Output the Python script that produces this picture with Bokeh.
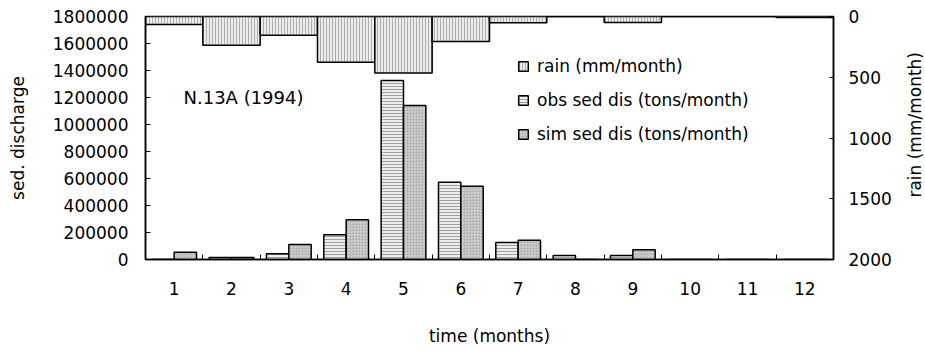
import math
from bokeh.plotting import figure
from bokeh.layouts import row
from bokeh.models import (Range1d, LinearAxis, FixedTicker, Label, Legend,
                          LegendItem, NumeralTickFormatter, ColumnDataSource)
from bokeh.embed import file_html
from bokeh.resources import INLINE

# ---- data ----
months = [1, 2, 3, 4, 5, 6, 7, 8, 9, 10, 11, 12]
rain = [66, 236, 154, 376, 466, 206, 52, 0, 50, 0, 0, 8]  # mm/month
obs_sed = [0, 15000, 42000, 183000, 1326000, 573000, 126000, 30000, 30000, 0, 0, 0]
sim_sed = [54000, 15000, 111000, 294000, 1141000, 543000, 143000, 0, 72000, 0, 0, 0]
sed_ticks = [0, 200000, 400000, 600000, 800000, 1000000, 1200000, 1400000, 1600000, 1800000]
rain_ticks = [0, 500, 1000, 1500, 2000]

FONT = "DejaVu Sans"
FS = "17px"

p = figure(width=900, height=350, x_range=Range1d(0.5, 12.5), y_range=Range1d(0, 1800000),
           output_backend="svg", toolbar_location=None,
           min_border_left=145, min_border_right=67, min_border_top=16, min_border_bottom=91)
p.extra_y_ranges = {"rain": Range1d(2000, 0)}
p.xgrid.visible = False
p.ygrid.visible = False
p.outline_line_color = "black"
p.outline_line_width = 1.5
p.background_fill_color = "white"
p.border_fill_color = "white"

bw = 0.39
src = ColumnDataSource(dict(
    x=months,
    rain=rain,
    obs=obs_sed,
    sim=sim_sed,
    xo=[m - bw / 2 for m in months],
    xs=[m + bw / 2 for m in months],
))

r_rain = p.vbar(x="x", width=1.0, top=0, bottom="rain", source=src, y_range_name="rain",
                fill_color="#ececec", hatch_pattern="vertical_line", hatch_color="#a0a0a0",
                hatch_scale=3, hatch_weight=0.8, line_color="black", line_width=1.5)
r_obs = p.vbar(x="xo", width=bw, top="obs", bottom=0, source=src,
               fill_color="#eeeeee", hatch_pattern="horizontal_line", hatch_color="#8a8a8a",
               hatch_scale=3, hatch_weight=0.8, line_color="black", line_width=1.5)
r_sim = p.vbar(x="xs", width=bw, top="sim", bottom=0, source=src,
               fill_color="#d6d6d6", hatch_pattern="criss_cross", hatch_color="#ababab",
               hatch_scale=3, hatch_weight=0.5, line_color="black", line_width=1.5)

# x axis
xa = p.xaxis[0]
xa.ticker = FixedTicker(ticks=months, minor_ticks=[m + 0.5 for m in months[:-1]])
xa.major_label_overrides = {m: str(m) for m in months}
xa.major_tick_in = 0
xa.major_tick_out = 0
xa.minor_tick_in = 5
xa.minor_tick_out = 0
xa.minor_tick_line_color = "black"
xa.axis_line_color = "black"
xa.axis_line_width = 1.5
xa.major_label_standoff = 22
xa.axis_label = "time (months)"
xa.axis_label_standoff = 28

# left axis
ya = p.yaxis[0]
ya.ticker = FixedTicker(ticks=sed_ticks)
ya.formatter = NumeralTickFormatter(format="0")
ya.major_tick_in = 5
ya.major_tick_out = 0
ya.minor_tick_line_color = None
ya.axis_line_color = "black"
ya.axis_line_width = 1.5
ya.major_label_standoff = 17
ya.axis_label = "sed. discharge"
ya.axis_label_standoff = 22

# right axis (its title is drawn in a side strip so it reads bottom-to-top)
ra = LinearAxis(y_range_name="rain", ticker=FixedTicker(ticks=rain_ticks))
ra.major_tick_in = 4
ra.major_tick_out = 0
ra.minor_tick_line_color = None
ra.axis_line_color = "black"
ra.axis_line_width = 1.5
ra.major_label_standoff = 15
p.add_layout(ra, "right")

for ax in [xa, ya, ra]:
    ax.major_label_text_font = FONT
    ax.major_label_text_font_size = FS
    ax.major_label_text_color = "black"
    ax.axis_label_text_font = FONT
    ax.axis_label_text_font_size = FS
    ax.axis_label_text_font_style = "normal"
    ax.axis_label_text_color = "black"
    ax.major_tick_line_color = "black"

p.add_layout(Label(x=38, y=162, x_units="screen", y_units="screen", text="N.13A (1994)",
                   text_font=FONT, text_font_size="18px", text_baseline="middle",
                   text_color="black"))

legend = Legend(items=[LegendItem(label="rain (mm/month)", renderers=[r_rain]),
                       LegendItem(label="obs sed dis (tons/month)", renderers=[r_obs]),
                       LegendItem(label="sim sed dis (tons/month)", renderers=[r_sim])],
                location=(372, 114), glyph_width=12, glyph_height=12, label_height=22,
                spacing=12, padding=0, margin=0, label_standoff=8,
                label_text_font=FONT, label_text_font_size=FS, label_text_color="black",
                border_line_alpha=0, background_fill_alpha=0)
p.add_layout(legend)

# side strip with the right-axis title
p2 = figure(width=25, height=350, x_range=Range1d(0, 25), y_range=Range1d(0, 350),
            output_backend="svg", toolbar_location=None,
            x_axis_location=None, y_axis_location=None,
            min_border_left=0, min_border_right=0, min_border_top=0, min_border_bottom=0)
p2.xgrid.visible = False
p2.ygrid.visible = False
p2.outline_line_color = None
p2.background_fill_color = "white"
p2.border_fill_color = "white"
p2.add_layout(Label(x=14, y=194, text="rain (mm/month)", angle=math.pi / 2,
                    text_align="center", text_baseline="middle",
                    text_font=FONT, text_font_size=FS, text_color="black"))

layout = row(p, p2)
open("out.html", "w").write(file_html(layout, INLINE))
